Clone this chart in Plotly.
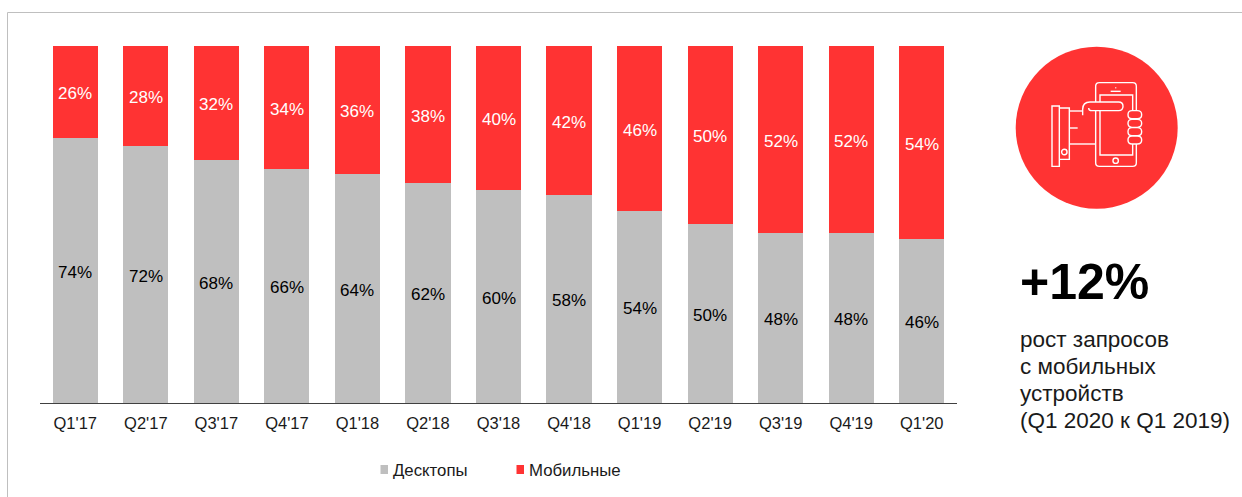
import plotly.graph_objects as go

quarters = ["Q1'17", "Q2'17", "Q3'17", "Q4'17", "Q1'18", "Q2'18", "Q3'18", "Q4'18", "Q1'19", "Q2'19", "Q3'19", "Q4'19", "Q1'20"]
desktop = [74.3, 72.0, 68.1, 65.6, 64.2, 61.7, 59.7, 58.3, 53.8, 50.2, 47.7, 47.7, 46.0]
mobile = [25.7, 28.0, 31.9, 34.4, 35.8, 38.3, 40.3, 41.7, 46.2, 49.8, 52.3, 52.3, 54.0]

GRAY = "#BFBFBF"
RED = "#FF3333"
FONT = "Liberation Sans"
W, H = 1242, 497
ML, MR, MT, MB = 40, 285, 46, 94

def px(x):
    return (x - ML) / (W - ML - MR)

def py(y):
    return 1 - (y - MT) / (H - MT - MB)

fig = go.Figure()
fig.add_trace(go.Bar(name="Десктопы", x=quarters, y=desktop, marker=dict(color=GRAY, line=dict(width=0))))
fig.add_trace(go.Bar(name="Мобильные", x=quarters, y=mobile, marker=dict(color=RED, line=dict(width=0))))

shapes = []
annotations = []

# value labels, placed from the data at the middle of each segment
for q, d, m in zip(quarters, desktop, mobile):
    annotations.append(dict(x=q, y=d / 2, xref="x", yref="y", text=f"{round(d)}%", showarrow=False,
                            yshift=-2, font=dict(family=FONT, size=17, color="#000000")))
    annotations.append(dict(x=q, y=d + m / 2, xref="x", yref="y", text=f"{round(m)}%", showarrow=False,
                            yshift=-2, font=dict(family=FONT, size=17, color="#FFFFFF")))

def rect(x0, y0, x1, y1, **kw):
    shapes.append(dict(type="rect", xref="paper", yref="paper", x0=px(x0), x1=px(x1), y0=py(y0), y1=py(y1), **kw))

def line(x0, y0, x1, y1, color="#FFFFFF", width=1.4):
    shapes.append(dict(type="line", xref="paper", yref="paper", x0=px(x0), x1=px(x1), y0=py(y0), y1=py(y1),
                       line=dict(color=color, width=width)))

def circle(cx, cy, r, **kw):
    shapes.append(dict(type="circle", xref="paper", yref="paper", x0=px(cx - r), x1=px(cx + r), y0=py(cy + r), y1=py(cy - r), **kw))

def text(x, y, s, size, color="#000000", bold=False, anchor="left"):
    annotations.append(dict(xref="paper", yref="paper", x=px(x), y=py(y), text=f"<b>{s}</b>" if bold else s,
                            showarrow=False, xanchor=anchor, yanchor="middle", align="left",
                            font=dict(family=FONT, size=size, color=color)))

# frame of the slide
line(7.5, 12.5, 1242, 12.5, color="#BFBFBF", width=1)
line(7.5, 12.5, 7.5, 497, color="#BFBFBF", width=1)

# icon
WL = dict(color="#FFFFFF", width=1.4)
circle(1096.7, 127.7, 81, fillcolor=RED, line=dict(width=0))

def zx(v):
    return 1000 + v / 3

def zy(v):
    return 30 + v / 3

def zrect(a, b, c, d):
    rect(zx(a), zy(b), zx(c), zy(d), line=WL)

def zline(a, b, c, d):
    line(zx(a), zy(b), zx(c), zy(d))

def zpath(d, fill=None):
    out = d.split()
    res = []
    i = 0
    while i < len(out):
        t = out[i]
        if t in "MLQZ":
            res.append(t)
            i += 1
        else:
            res.append(f"{px(zx(float(t)))},{py(zy(float(out[i + 1])))}")
            i += 2
    s = dict(type="path", xref="paper", yref="paper", path=" ".join(res), line=WL)
    if fill:
        s["fillcolor"] = fill
    shapes.append(s)

zpath("M 298 158 L 398 158 Q 409 158 409 169 L 409 398 Q 409 409 398 409 L 298 409 Q 287 409 287 398 L 287 169 Q 287 158 298 158 Z")
zpath("M 300 195 L 398 195 L 398 375 L 300 375 Z")
circle(zx(347), zy(392), 2.7, line=WL)
zline(332, 184, 362, 184)
zline(347, 172, 347, 175)
# wrist / cuff
zrect(156, 228, 178, 409)
zpath("M 178 234 L 208 234 L 208 388 L 178 388")
circle(zx(193), zy(366), 2.7, line=WL)
zline(208, 243, 248, 243)
zline(208, 294, 233, 294)
zline(208, 342, 287, 342)
# thumb
zpath("M 248 256 L 248 238 Q 248 216 270 216 L 356 216 Q 369 216 369 229 Q 369 242 356 242 L 275 242 Q 266 242 266 234", fill=RED)
# fingers
for cy in (254, 280, 305, 330):
    zpath(f"M 396 {cy - 12} L 412 {cy - 12} Q 425 {cy - 12} 425 {cy} Q 425 {cy + 12} 412 {cy + 12} L 396 {cy + 12} Q 384 {cy + 12} 384 {cy} Q 384 {cy - 12} 396 {cy - 12} Z", fill=RED)

# callout text
text(1018, 282, "+12%", 50, bold=True)
text(1018, 339, "рост запросов", 22.5, color="#1a1a1a")
text(1018, 366, "с мобильных", 22.5, color="#1a1a1a")
text(1018, 393, "устройств", 22.5, color="#1a1a1a")
text(1018, 420, "(Q1 2020 к Q1 2019)", 22.5, color="#1a1a1a")

# legend
rect(380.5, 465, 388, 474, fillcolor=GRAY, line=dict(width=0))
text(391, 470, "Десктопы", 16.8, color="#1a1a1a")
rect(516.5, 465, 524, 474, fillcolor=RED, line=dict(width=0))
text(527, 470, "Мобильные", 16.8, color="#1a1a1a")

fig.update_layout(
    width=W, height=H, barmode="stack", bargap=0.36, showlegend=False,
    margin=dict(l=ML, r=MR, t=MT, b=MB, pad=0, autoexpand=False),
    paper_bgcolor="#FFFFFF", plot_bgcolor="#FFFFFF",
    font=dict(family=FONT, color="#1a1a1a"),
    shapes=shapes, annotations=annotations,
    xaxis=dict(type="category", showgrid=False, ticks="", showline=True, linecolor="#404040", linewidth=1,
               tickfont=dict(size=16.5, family=FONT, color="#1a1a1a"), ticklabelstandoff=5, tickangle=0),
    yaxis=dict(range=[0, 100], visible=False, fixedrange=True),
)
fig.write_html("out.html", config=dict(displayModeBar=False),
               post_script="document.body.style.margin='0';window.dispatchEvent(new Event('resize'));")
